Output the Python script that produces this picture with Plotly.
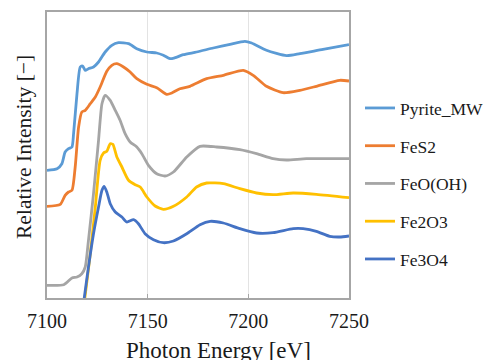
import plotly.graph_objects as go

# Photon energy (eV) and relative intensity (arbitrary, offset) for each sample
pyrite_mw_e = [7100, 7105, 7107.4, 7109, 7110.7, 7112.4, 7113.2, 7114.9, 7116.5, 7117.7, 7119, 7120.6,
               7123.1, 7125.6, 7128.9, 7132.2, 7135.5, 7140.5, 7144.6, 7149.6, 7154.5, 7157.8, 7161.1,
               7163.6, 7167.7, 7174.3, 7182.6, 7190.9, 7198.3, 7201.6, 7209, 7219, 7225.6, 7237.1, 7250]
pyrite_mw_y = [1.277, 1.293, 1.343, 1.460, 1.493, 1.510, 1.643, 2.043, 2.310, 2.320, 2.277, 2.293,
               2.310, 2.360, 2.460, 2.527, 2.553, 2.543, 2.493, 2.460, 2.450, 2.427, 2.393,
               2.403, 2.433, 2.460, 2.500, 2.537, 2.567, 2.550, 2.477, 2.423, 2.443, 2.487, 2.533]

fes2_e = [7100, 7106.6, 7109, 7110.7, 7112.4, 7114, 7115.7, 7117.3, 7119, 7121.5, 7124, 7126.4,
          7129.7, 7132.2, 7134.7, 7138, 7141.3, 7144.6, 7149.6, 7154.5, 7159.5, 7162, 7166, 7171,
          7179.3, 7187.6, 7197.5, 7202.4, 7209, 7217.3, 7225.6, 7233.8, 7245.4, 7250]
fes2_y = [0.917, 0.937, 1.027, 1.060, 1.077, 1.310, 1.710, 1.860, 1.877, 1.943, 2.010, 2.110,
          2.267, 2.327, 2.343, 2.310, 2.260, 2.193, 2.137, 2.103, 2.037, 2.050, 2.093, 2.117,
          2.193, 2.227, 2.277, 2.227, 2.117, 2.053, 2.077, 2.117, 2.177, 2.170]

feooh_e = [7100, 7108.3, 7112.4, 7114.9, 7117.3, 7119, 7120.6, 7123.1, 7125.6, 7127.3, 7128.9,
           7131.4, 7133.9, 7136.3, 7138.8, 7141.3, 7144.6, 7147.1, 7150.4, 7154.5, 7158.6, 7162.8,
           7169.4, 7176, 7184.3, 7195.8, 7204.1, 7212.3, 7219, 7228.9, 7250]
feooh_y = [0.127, 0.133, 0.200, 0.210, 0.243, 0.310, 0.577, 1.043, 1.577, 1.943, 2.027,
           1.977, 1.877, 1.777, 1.643, 1.560, 1.510, 1.443, 1.327, 1.243, 1.220, 1.260,
           1.410, 1.517, 1.510, 1.483, 1.443, 1.393, 1.380, 1.393, 1.393]

fe2o3_e = [7117.5, 7118.8, 7121.5, 7124, 7126.4, 7128.1, 7129.7, 7131.4, 7132.7, 7134.7, 7137.2,
           7140.5, 7143.8, 7146.3, 7149.6, 7153.7, 7157.8, 7162.8, 7169.4, 7174.3, 7179.3, 7187.6,
           7195.8, 7204.1, 7212.3, 7222.3, 7233.8, 7250]
fe2o3_y = [-0.2, 0.0, 0.443, 0.910, 1.377, 1.450, 1.467, 1.543, 1.537, 1.410, 1.310,
           1.177, 1.133, 1.110, 1.010, 0.920, 0.887, 0.917, 1.010, 1.110, 1.150, 1.143,
           1.093, 1.050, 1.033, 1.050, 1.037, 1.003]

fe3o4_e = [7117.2, 7118.5, 7120.6, 7123.1, 7125.6, 7127.3, 7128.4, 7129.7, 7131.4, 7133.9, 7137.2,
           7139.6, 7143, 7145.4, 7148.7, 7152.9, 7157.8, 7162.8, 7169.4, 7176, 7181, 7187.6,
           7195.8, 7204.1, 7212.3, 7222.3, 7227.2, 7233.8, 7240.4, 7245.4, 7250]
fe3o4_y = [-0.2, 0.0, 0.310, 0.643, 0.910, 1.077, 1.117, 1.060, 0.943, 0.860, 0.810,
           0.760, 0.783, 0.743, 0.643, 0.583, 0.553, 0.570, 0.643, 0.733, 0.767, 0.750,
           0.693, 0.650, 0.653, 0.693, 0.693, 0.667, 0.617, 0.610, 0.620]

names = ["Pyrite_MW", "FeS2", "FeO(OH)", "Fe2O3", "Fe3O4"]
xs = [pyrite_mw_e, fes2_e, feooh_e, fe2o3_e, fe3o4_e]
ys = [pyrite_mw_y, fes2_y, feooh_y, fe2o3_y, fe3o4_y]
colors = ["#5B9BD5", "#ED7D31", "#A5A5A5", "#FFC000", "#4472C4"]

x_ticks = [7100, 7150, 7200, 7250]
x_title = "Photon Energy [eV]"
y_title = "Relative Intensity [−]"

FONT = "Liberation Serif, DejaVu Serif, serif"
TXT = "#1a1a1a"

fig = go.Figure()
for n, x, y, c in zip(names, xs, ys, colors):
    fig.add_trace(go.Scatter(x=x, y=y, name=n, mode="lines", legendgroup=n,
                             line=dict(color=c, width=2.8, shape="spline", smoothing=0.6)))

# page body adds an 8px offset, so the figure is 8px smaller than the window
fig.update_layout(
    width=483, height=352,
    margin=dict(l=39, r=142, t=4, b=62, autoexpand=False),
    paper_bgcolor="white", plot_bgcolor="white",
    font=dict(family=FONT, color=TXT),
    showlegend=True,
    legend=dict(x=1.0364, y=0.727, xanchor="left", yanchor="top",
                font=dict(family=FONT, size=17.5, color=TXT),
                tracegroupgap=12, itemwidth=30, bgcolor="rgba(0,0,0,0)"),
    xaxis=dict(range=[7100, 7250], tickvals=x_ticks, ticktext=[str(t) for t in x_ticks],
               showgrid=True, gridcolor="#e3e3e3", gridwidth=1,
               showline=True, linecolor="#a6a6a6", linewidth=1.5, mirror=True,
               ticks="inside", ticklen=4, tickcolor="#a6a6a6", automargin=False,
               ticklabelstandoff=4,
               tickfont=dict(family=FONT, size=20, color=TXT),
               zeroline=False),
    yaxis=dict(range=[0, 2.86], showticklabels=False, ticks="", showgrid=False, zeroline=False,
               showline=True, linecolor="#a6a6a6", linewidth=1.5, mirror=True, automargin=False),
    annotations=[
        dict(text=x_title, xref="paper", yref="paper", x=0.5695, y=-0.185,
             xanchor="center", yanchor="middle", showarrow=False,
             font=dict(family=FONT, size=23, color=TXT)),
        dict(text=y_title, xref="paper", yref="paper", x=-0.0762, y=0.528, textangle=-90,
             xanchor="center", yanchor="middle", showarrow=False,
             font=dict(family=FONT, size=21.5, color=TXT)),
    ],
)

fig.write_html("out.html")
